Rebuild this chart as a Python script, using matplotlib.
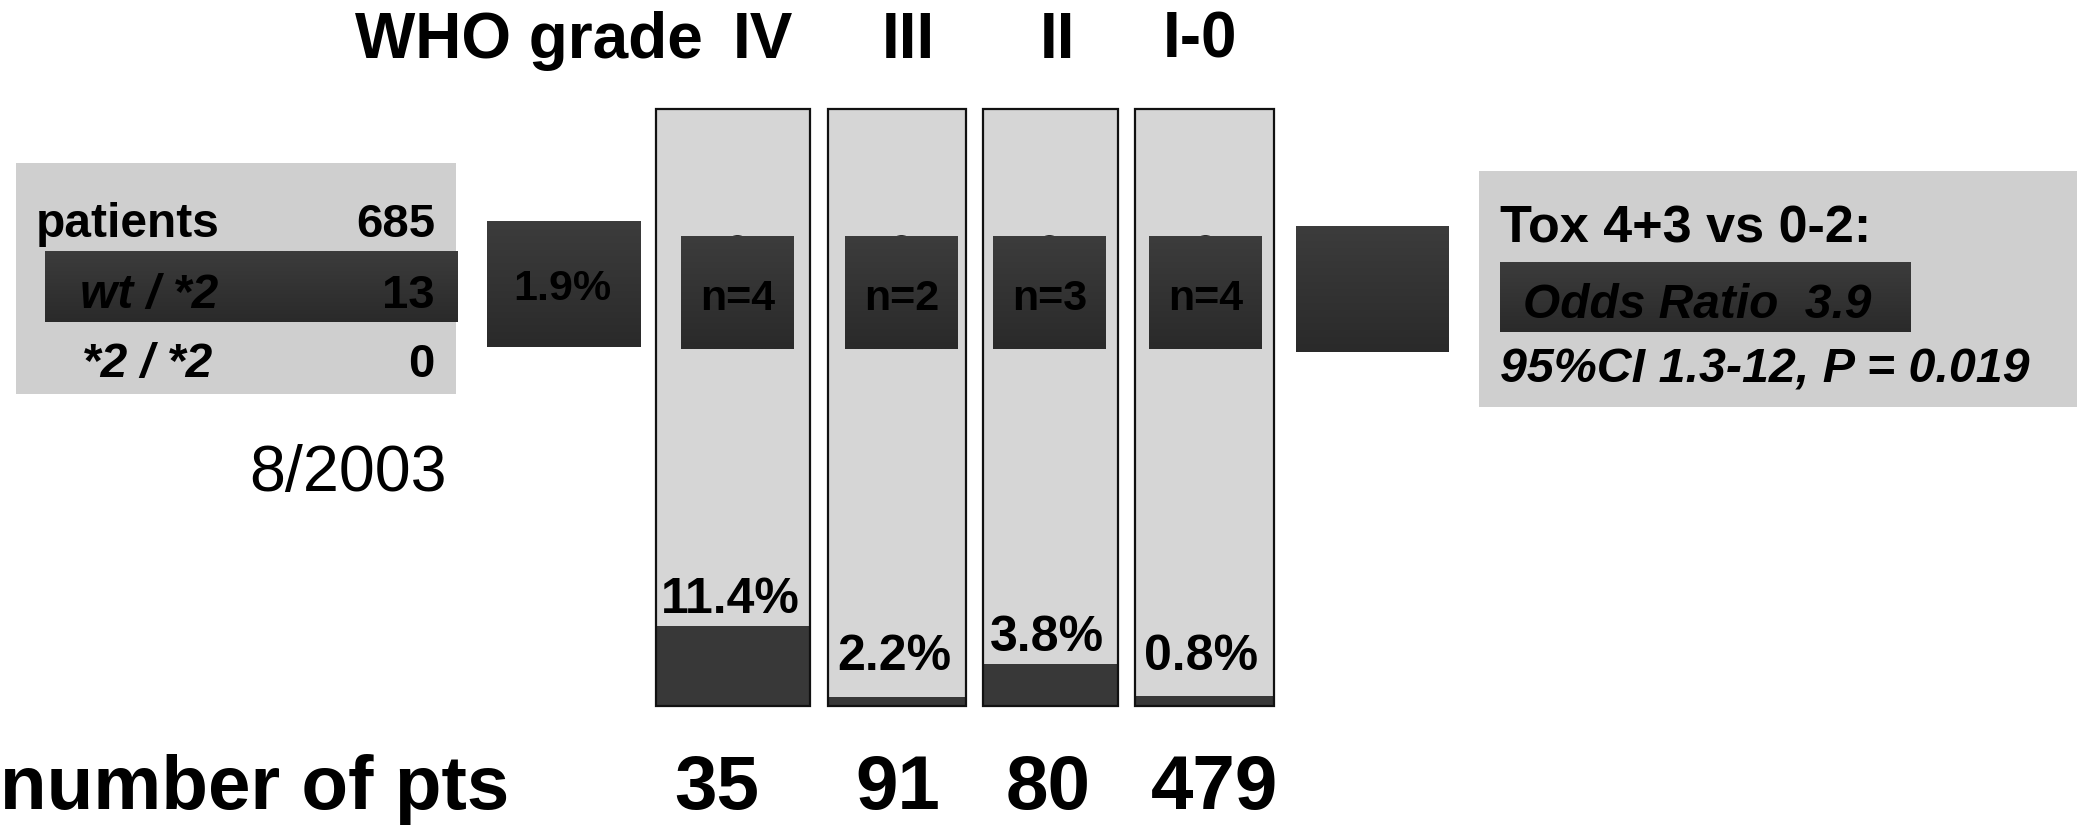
import numpy as np
import matplotlib
matplotlib.use("Agg")
import matplotlib.pyplot as plt
from matplotlib.patches import Rectangle, Ellipse
from matplotlib.colors import LinearSegmentedColormap

plt.rcParams['font.family'] = ['Liberation Sans', 'DejaVu Sans']

# ---------------- data ----------------
grades = ['IV', 'III', 'II', 'I-0']
n_patients = [35, 91, 80, 479]
tox_pct_labels = ['11.4%', '2.2%', '3.8%', '0.8%']
fill_level = [13.4, 1.5, 7.0, 1.7]        # dark fill height, % of the column
carriers = [4, 2, 3, 4]
geno_labels = ['patients', 'wt / *2', '*2 / *2']
geno_counts = [685, 13, 0]
overall_pct = '1.9%'
odds_header = 'Tox 4+3 vs 0-2:'
odds_ratio = 3.9
ci_text = '95%CI 1.3-12, P = 0.019'
date_label = '8/2003'

# ---------------- layout ----------------
W, H = 2084, 828
fig = plt.figure(figsize=(W / 100, H / 100), dpi=100)
fig.patch.set_facecolor('white')

ax = fig.add_axes([0, 0, 1, 1])
ax.set_zorder(2)
ax.patch.set_visible(False)
ax.axis('off')

# bar area axes (pixel span x 640..1290, y 110..707)
bx = fig.add_axes([640 / W, (H - 707) / H, 650 / W, (707 - 110) / H])
bx.set_zorder(1)
bx.set_xlim(640, 1290)
bx.set_ylim(0, 100)
bx.axis('off')

bar_x = [733, 897, 1050, 1204]
bar_w = [154, 138, 135, 139]
LIGHT = '#d6d6d6'
DARK = '#383838'
EDGE = '#111111'

bx.bar(bar_x, [100] * 4, width=bar_w, color=LIGHT, edgecolor='none', zorder=1, clip_on=False)
bx.bar(bar_x, fill_level, width=bar_w, color=DARK, edgecolor='none', zorder=2, clip_on=False)
bx.bar(bar_x, [100] * 4, width=bar_w, fill=False, edgecolor=EDGE, linewidth=1.6, zorder=3, clip_on=False)

for x, f, lab in zip(bar_x, fill_level, tox_pct_labels):
    bx.text(x - 3, max(f + 2.3, 6.2), lab, ha='center', va='baseline',
            fontsize=36, fontweight='bold', color='black', zorder=4)

cmap = LinearSegmentedColormap.from_list('dk', ['#3c3c3c', '#2a2a2a'])
grad = np.linspace(0, 1, 64).reshape(-1, 1)


def dark_box(x0, y0, x1, y1, z=3):
    ax.imshow(grad, extent=[x0, x1, y1, y0], origin='upper', cmap=cmap,
              aspect='auto', zorder=z, interpolation='bilinear')


def gray_box(x0, y0, x1, y1, color='#cfcfcf', z=1):
    ax.add_patch(Rectangle((x0, y0), x1 - x0, y1 - y0, facecolor=color,
                           edgecolor='none', zorder=z))


# ---- title row ----
ax.text(355, 58, 'WHO grade', ha='left', va='baseline', fontsize=46, fontweight='bold')
grade_x = [763, 908, 1058, 1200]
for gx, g in zip(grade_x, grades):
    ax.text(gx, 58, g, ha='center', va='baseline', fontsize=46, fontweight='bold')

# ---- left genotype box ----
gray_box(16, 164, 456, 395)
dark_box(45, 253, 458, 323)
row_y = [237, 308, 377]
row_x = [36, 80, 82]
row_style = ['normal', 'italic', 'italic']
for lab, cnt, yy, xx, st in zip(geno_labels, geno_counts, row_y, row_x, row_style):
    ax.text(xx, yy, lab, ha='left', va='baseline', fontsize=34.5, fontweight='bold',
            fontstyle=st, zorder=5)
    ax.text(435, yy, str(cnt), ha='right', va='baseline', fontsize=34,
            fontweight='bold', zorder=5)

ax.text(249, 491, date_label, ha='left', va='baseline', fontsize=46.5, color='black')

# ---- overall percentage box ----
dark_box(487, 223, 641, 348)
ax.text(562, 300, overall_pct, ha='center', va='baseline', fontsize=31,
        fontweight='bold', zorder=5)

# ---- carrier counts inside each column ----
inner_x0 = [681, 845, 993, 1149]
inner_w = 113
for x0, n in zip(inner_x0, carriers):
    cx = x0 + inner_w / 2
    ax.add_patch(Ellipse((cx, 250), 26, 28, facecolor='#2a2a2a', edgecolor='none', zorder=2))
    dark_box(x0, 238, x0 + inner_w, 350)
    ax.text(cx, 310, f'n={n}', ha='center', va='baseline', fontsize=31,
            fontweight='bold', zorder=5)

# ---- right empty dark box ----
dark_box(1296, 228, 1449, 353)

# ---- odds ratio box ----
gray_box(1479, 172, 2077, 408)
dark_box(1500, 264, 1911, 333)
ax.text(1500, 243, odds_header, ha='left', va='baseline', fontsize=37.5,
        fontweight='bold', zorder=5)
ax.text(1523, 318, f'Odds Ratio  {odds_ratio}', ha='left', va='baseline', fontsize=34.5,
        fontweight='bold', fontstyle='italic', zorder=5)
ax.text(1500, 383, ci_text, ha='left', va='baseline', fontsize=34.8,
        fontweight='bold', fontstyle='italic', zorder=5)

# ---- bottom row ----
ax.text(0, 809, 'number of pts', ha='left', va='baseline', fontsize=55, fontweight='bold')
num_x = [717, 898, 1048, 1215]
for nx, n in zip(num_x, n_patients):
    ax.text(nx, 809, str(n), ha='center', va='baseline', fontsize=55, fontweight='bold')

ax.set_xlim(0, W)
ax.set_ylim(H, 0)

fig.savefig('out.png', dpi=100, facecolor='white')
